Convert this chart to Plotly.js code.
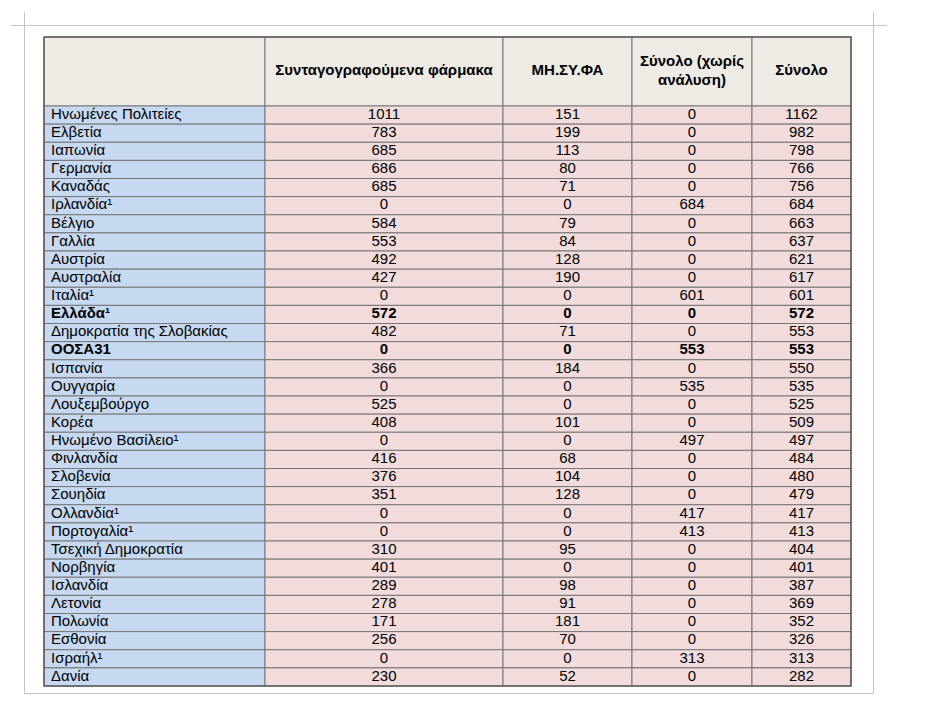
<!DOCTYPE html>
<html>
<head>
<meta charset="utf-8">
<script src="https://cdn.plot.ly/plotly-3.0.1.min.js"></script>
<style>
  body { margin: 0; background: #fff; }
  #tbl { width: 949px; height: 704px; }
</style>
</head>
<body>
<div id="tbl"></div>
<script>
// Χώρες και τιμές του πίνακα
var countries = ['Ηνωμένες Πολιτείες', 'Ελβετία', 'Ιαπωνία', 'Γερμανία', 'Καναδάς', 'Ιρλανδία¹',
  'Βέλγιο', 'Γαλλία', 'Αυστρία', 'Αυστραλία', 'Ιταλία¹', 'Ελλάδα¹', 'Δημοκρατία της Σλοβακίας',
  'ΟΟΣΑ31', 'Ισπανία', 'Ουγγαρία', 'Λουξεμβούργο', 'Κορέα', 'Ηνωμένο Βασίλειο¹', 'Φινλανδία',
  'Σλοβενία', 'Σουηδία', 'Ολλανδία¹', 'Πορτογαλία¹', 'Τσεχική Δημοκρατία', 'Νορβηγία',
  'Ισλανδία', 'Λετονία', 'Πολωνία', 'Εσθονία', 'Ισραήλ¹', 'Δανία'];
var prescribed = [1011, 783, 685, 686, 685, 0, 584, 553, 492, 427, 0, 572, 482, 0, 366, 0,
  525, 408, 0, 416, 376, 351, 0, 0, 310, 401, 289, 278, 171, 256, 0, 230];
var otc = [151, 199, 113, 80, 71, 0, 79, 84, 128, 190, 0, 0, 71, 0, 184, 0,
  0, 101, 0, 68, 104, 128, 0, 0, 95, 0, 98, 91, 181, 70, 0, 52];
var noBreakdown = [0, 0, 0, 0, 0, 684, 0, 0, 0, 0, 601, 0, 0, 553, 0, 535,
  0, 0, 497, 0, 0, 0, 417, 413, 0, 0, 0, 0, 0, 0, 313, 0];
var total = [1162, 982, 798, 766, 756, 684, 663, 637, 621, 617, 601, 572, 553, 553, 550, 535,
  525, 509, 497, 484, 480, 479, 417, 413, 404, 401, 387, 369, 352, 326, 313, 282];
var headers = ['', 'Συνταγογραφούμενα φάρμακα', 'ΜΗ.ΣΥ.ΦΑ', 'Σύνολο (χωρίς<br>ανάλυση)', 'Σύνολο'];
var boldRows = ['Ελλάδα¹', 'ΟΟΣΑ31'];

// layout of the grid (pixels, axes are set 1:1 to the page)
var colEdges = [44, 265, 503, 632, 752, 851];
var headTop = 37, headH = 69, rowH = 18.125;
var fonts = 'Liberation Sans, Arial, sans-serif';
var blue = '#C6D9F1', pink = '#F2DCDB', beige = '#EEEBE4';
var lineCol = '#767676';

var columns = [countries, prescribed, otc, noBreakdown, total];
var headY = headTop + headH / 2;
var rowY = countries.map(function (c, i) { return headTop + headH + rowH * (i + 0.5); });

function fmt(col) {
  return col.map(function (v, i) {
    return boldRows.indexOf(countries[i]) >= 0 ? '<b>' + v + '</b>' : String(v);
  });
}

var data = [];
// cell backgrounds + borders as horizontal bars
columns.forEach(function (col, j) {
  var fill = j === 0 ? blue : pink;
  data.push({
    type: 'bar',
    orientation: 'h',
    y: [headY].concat(rowY),
    x: [headY].concat(rowY).map(function () { return colEdges[j + 1] - colEdges[j]; }),
    base: colEdges[j],
    width: [headH].concat(rowY.map(function () { return rowH; })),
    marker: {
      color: [beige].concat(rowY.map(function () { return fill; })),
      line: {color: lineCol, width: 1}
    },
    hoverinfo: 'skip'
  });
});
// cell text
columns.forEach(function (col, j) {
  data.push({
    type: 'scatter',
    mode: 'text',
    x: rowY.map(function () { return j === 0 ? colEdges[0] + 7 : (colEdges[j] + colEdges[j + 1]) / 2; }),
    y: rowY,
    text: fmt(col),
    textposition: j === 0 ? 'middle right' : 'middle center',
    textfont: {family: fonts, size: 15, color: '#000'},
    hoverinfo: 'skip'
  });
});
// header text
data.push({
  type: 'scatter',
  mode: 'text',
  x: headers.map(function (h, j) { return (colEdges[j] + colEdges[j + 1]) / 2; }),
  y: headers.map(function () { return headY; }),
  text: headers.map(function (h) { return h ? '<b>' + h + '</b>' : ''; }),
  textposition: 'middle center',
  textfont: {family: fonts, size: 15, color: '#000'},
  hoverinfo: 'skip'
});

var grey = '#c3c3c3';
var layout = {
  width: 949,
  height: 704,
  margin: {l: 0, r: 0, t: 0, b: 0},
  paper_bgcolor: '#ffffff',
  plot_bgcolor: '#ffffff',
  showlegend: false,
  barmode: 'overlay',
  xaxis: {range: [0, 949], visible: false, fixedrange: true},
  yaxis: {range: [704, 0], visible: false, fixedrange: true},
  shapes: [
    {type: 'line', xref: 'x', yref: 'y', x0: 11, x1: 887, y0: 25.5, y1: 25.5, line: {color: grey, width: 1}},
    {type: 'line', xref: 'x', yref: 'y', x0: 24.5, x1: 24.5, y0: 12, y1: 693.5, line: {color: grey, width: 1}},
    {type: 'line', xref: 'x', yref: 'y', x0: 873.5, x1: 873.5, y0: 12, y1: 693.5, line: {color: grey, width: 1}},
    {type: 'line', xref: 'x', yref: 'y', x0: 24.5, x1: 873.5, y0: 693.5, y1: 693.5, line: {color: grey, width: 1}},
    {type: 'rect', xref: 'x', yref: 'y', x0: colEdges[0], x1: colEdges[5], y0: headTop, y1: headTop + headH + rowH * countries.length,
      line: {color: '#5e5e5e', width: 1.5}}
  ]
};

Plotly.newPlot('tbl', data, layout, {displayModeBar: false, staticPlot: true});
</script>
</body>
</html>
